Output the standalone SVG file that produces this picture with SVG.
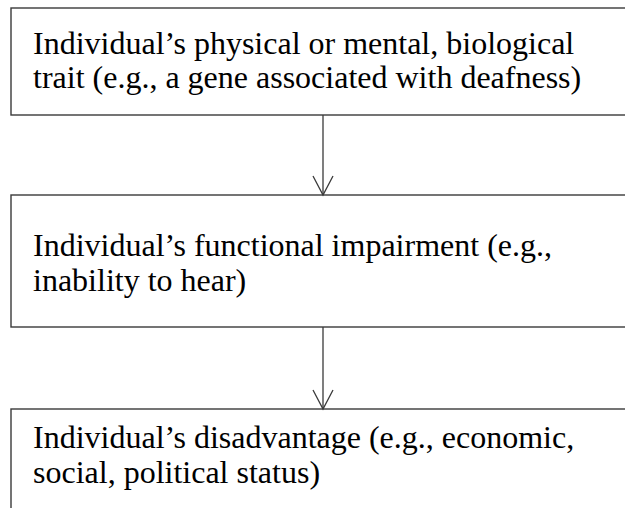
<svg xmlns="http://www.w3.org/2000/svg" width="625" height="508" viewBox="0 0 625 508">
<style>
.box{fill:#fff;stroke:#3a3a3a;stroke-width:1.4}
.t{font-family:"Liberation Serif","Times New Roman",serif;font-size:32px;fill:#000}
.c{stroke:#3a3a3a;stroke-width:1.3;fill:none}
</style>
<defs>
<marker id="ah" markerWidth="24" markerHeight="24" refX="20" refY="11" orient="auto" markerUnits="userSpaceOnUse">
<path d="M1,1 L20,11 L1,21" fill="none" stroke="#3a3a3a" stroke-width="1.3"/>
</marker>
</defs>
<rect width="625" height="508" fill="#fff"/>
<g id="node1">
<rect class="box" x="11" y="8" width="620" height="107"/>
<text class="t" x="33" y="54">Individual’s physical or mental, biological</text>
<text class="t" x="33" y="88">trait (e.g., a gene associated with deafness)</text>
</g>
<g id="node2">
<rect class="box" x="11" y="195" width="620" height="132"/>
<text class="t" x="33" y="256">Individual’s functional impairment (e.g.,</text>
<text class="t" x="33" y="291">inability to hear)</text>
</g>
<g id="node3">
<rect class="box" x="11" y="409" width="620" height="110"/>
<text class="t" x="33" y="448">Individual’s disadvantage (e.g., economic,</text>
<text class="t" x="33" y="483">social, political status)</text>
</g>
<g id="connectors">
<line class="c" x1="323" y1="115" x2="323" y2="195" marker-end="url(#ah)"/>
<line class="c" x1="323" y1="327" x2="323" y2="409" marker-end="url(#ah)"/>
</g>
</svg>
